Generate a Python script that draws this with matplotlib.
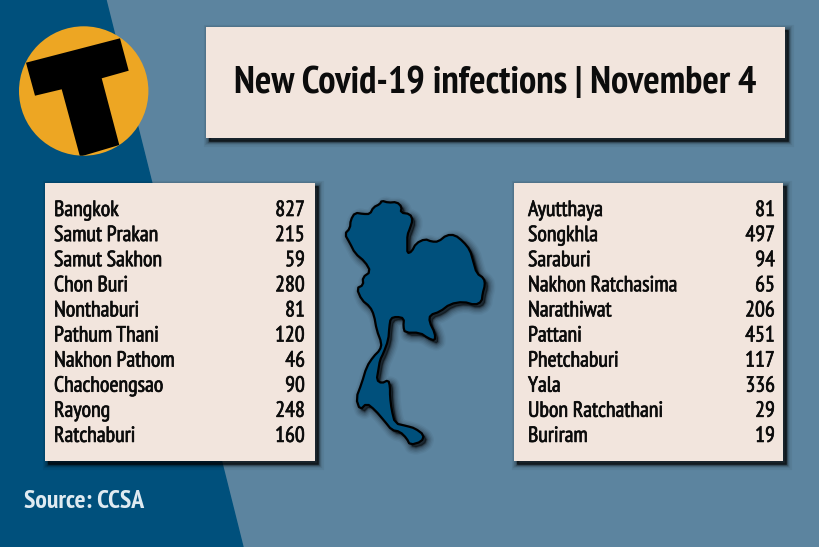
import matplotlib
matplotlib.use('Agg')
import matplotlib.pyplot as plt
import matplotlib.patheffects as pe
from matplotlib.patches import Polygon, Rectangle, Circle

names_left = ['Bangkok', 'Samut Prakan', 'Samut Sakhon', 'Chon Buri', 'Nonthaburi',
              'Pathum Thani', 'Nakhon Pathom', 'Chachoengsao', 'Rayong', 'Ratchaburi']
cases_left = [827, 215, 59, 280, 81, 120, 46, 90, 248, 160]
names_right = ['Ayutthaya', 'Songkhla', 'Saraburi', 'Nakhon Ratchasima', 'Narathiwat',
               'Pattani', 'Phetchaburi', 'Yala', 'Ubon Ratchathani', 'Buriram']
cases_right = [81, 497, 94, 65, 206, 451, 117, 336, 29, 19]

title = 'New Covid-19 infections | November 4'
source = 'Source: CCSA'

outline = [(44,132),(60,115),(62,90),(75,68),(100,72),(120,72),(130,52),(150,42),(155,32),
           (175,38),(200,36),(215,50),(212,68),(240,72),(248,90),(240,115),(232,135),(232,165),
           (232,190),(245,185),(258,160),(285,147),(305,155),(325,155),(350,135),(375,135),
           (400,155),(420,180),(430,215),(440,250),(462,265),(465,285),(458,310),(455,335),
           (435,345),(400,335),(360,342),(330,365),(300,375),(298,395),(315,430),(315,452),
           (295,445),(270,428),(225,428),(220,410),(222,385),(200,380),(182,385),(178,410),
           (175,450),(160,490),(150,510),(145,540),(140,570),(155,580),(175,570),(180,590),
           (180,620),(185,660),(195,700),(230,708),(255,715),(282,735),(275,755),(240,765),
           (230,745),(210,725),(185,720),(165,695),(135,660),(110,640),(90,660),(78,625),
           (95,580),(110,530),(130,500),(150,480),(155,460),(140,420),(132,375),(120,350),
           (95,330),(80,295),(100,285),(98,262),(122,245),(105,215),(75,190),(60,160)]
map_pts = [(330 + x / 3, 190 + y / 3) for x, y in outline]


def smooth(pts):
    # one pass of corner cutting, the map has no sharp corners
    out = []
    for i, (x0, y0) in enumerate(pts):
        x1, y1 = pts[(i + 1) % len(pts)]
        out.append((0.75 * x0 + 0.25 * x1, 0.75 * y0 + 0.25 * y1))
        out.append((0.25 * x0 + 0.75 * x1, 0.25 * y0 + 0.75 * y1))
    return out


map_pts = smooth(map_pts)

LIGHT = '#5c849f'
DARK = '#00507c'
CREAM = '#f2e5dd'
INK = '#0c0c0c'

plt.rcParams['font.family'] = ['PT Sans Narrow', 'Liberation Sans', 'DejaVu Sans']

fig = plt.figure(figsize=(8.2, 5.47), dpi=100)
ax = fig.add_axes([0, 0, 1, 1])
ax.set_xlim(0, 820)
ax.set_ylim(547, 0)
ax.axis('off')

ax.add_patch(Rectangle((0, 0), 820, 547, color=LIGHT, zorder=0))
ax.add_patch(Polygon([(0, 0), (106, 0), (243, 547), (0, 547)], color=DARK, zorder=1))


def box(x, y, w, h):
    # stacked strokes stand in for the blur
    for lw, a in [(8, 0.05), (6, 0.08), (4, 0.12), (2.5, 0.2), (1, 0.4)]:
        ax.add_patch(Rectangle((x + 3, y + 3), w, h, fc='black', ec='black', lw=lw, alpha=a, zorder=2))
    ax.add_patch(Rectangle((x, y), w, h, fc=CREAM, ec='none', zorder=3))


# logo
logo = Circle((83.7, 91), 64.7, fc='#eda623', ec='none', zorder=2)
ax.add_patch(logo)
t_shape = [(26, 62.7), (120, 38.3), (128.7, 70.7), (101.7, 78.3), (119.3, 145),
           (80, 156.7), (61.7, 89.3), (35, 95.7)]
t_patch = Polygon(t_shape, fc='black', ec='none', zorder=3)
ax.add_patch(t_patch)
t_patch.set_clip_path(logo)

box(206, 27, 579, 111)
box(45, 183, 270, 278)
box(514, 183, 269, 278)

ax.text(495.5, 84, title, ha='center', va='center', fontsize=27.8, fontweight='bold',
        color=INK, zorder=4)

heavier = [pe.withStroke(linewidth=0.5, foreground=INK)]
row_y = [210.5 + 25.1 * i for i in range(10)]
for y, name, n in zip(row_y, names_left, cases_left):
    ax.text(54, y, name, ha='left', va='center', fontsize=15.8, color=INK, zorder=4, path_effects=heavier)
    ax.text(305, y, str(n), ha='right', va='center', fontsize=15.8, color=INK, zorder=4, path_effects=heavier)
for y, name, n in zip(row_y, names_right, cases_right):
    ax.text(528, y, name, ha='left', va='center', fontsize=15.8, color=INK, zorder=4, path_effects=heavier)
    ax.text(775, y, str(n), ha='right', va='center', fontsize=15.8, color=INK, zorder=4, path_effects=heavier)

# map with blurred shadow
shadow_pts = [(x + 3, y + 3) for x, y in map_pts]
for lw, a in [(11, 0.04), (9, 0.06), (7, 0.08), (5, 0.1), (3, 0.15), (1.5, 0.25)]:
    ax.add_patch(Polygon(shadow_pts, fc='black', ec='black', lw=lw, alpha=a, joinstyle='round', zorder=2))
ax.add_patch(Polygon(map_pts, fc=DARK, ec='black', lw=1.6, joinstyle='round', zorder=3))

ax.text(24, 501, source, ha='left', va='center', fontsize=18.5, fontweight='bold',
        color='#dfeaf1', zorder=4)

fig.savefig('out.png', dpi=100)
